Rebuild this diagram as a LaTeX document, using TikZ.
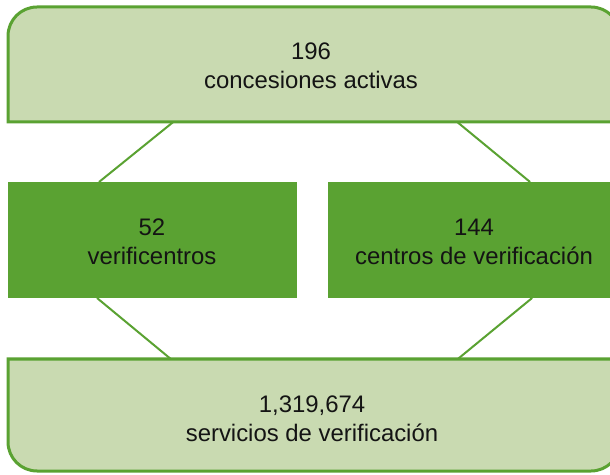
\documentclass[tikz,border=0pt]{standalone}
\usepackage{fontspec}
\setmainfont{Liberation Sans}
\usetikzlibrary{calc}
\definecolor{lightgreen}{RGB}{201,218,177}
\definecolor{darkgreen}{RGB}{90,162,50}
\begin{document}
\begin{tikzpicture}[x=1pt,y=1pt,
  frame/.style={rectangle,inner sep=0pt,outer sep=0pt},
  outline/.style={fill=lightgreen,draw=darkgreen,line width=3pt},
  midbox/.style={frame,fill=darkgreen},
  label/.style={align=center,font=\fontsize{23.9}{29}\selectfont,text=black!92},
  link/.style={draw=darkgreen,line width=2pt}]
\useasboundingbox (0,0) rectangle (610,474);
\clip (0,0) rectangle (610,474);
% frames
\node[frame,minimum width=612pt,minimum height=115pt] (top) at (314,409.5) {};
\node[frame,minimum width=612pt,minimum height=112pt] (bot) at (314,59) {};
\node[midbox,minimum width=289pt,minimum height=116pt] (left) at (152.5,234) {};
\node[midbox,minimum width=292pt,minimum height=116pt] (right) at (474,234) {};
% outlines of top and bottom boxes
\path[outline] (top.south west) -- ([yshift=-29pt]top.north west)
  arc[start angle=180,end angle=90,radius=29pt] -- ([xshift=-29pt]top.north east)
  arc[start angle=90,end angle=0,radius=29pt] -- (top.south east) -- cycle;
\path[outline] (bot.north west) -- ([yshift=29pt]bot.south west)
  arc[start angle=180,end angle=270,radius=29pt] -- ([xshift=-29pt]bot.south east)
  arc[start angle=270,end angle=360,radius=29pt] -- (bot.north east) -- cycle;
% texts
\node[label] (toptext) at (311,408) {196\\concesiones activas};
\node[label] (lefttext) at (152,232) {52\\verificentros};
\node[label] (righttext) at (474,232) {144\\centros de verificación};
\node[label] (bottext) at (312,55.5) {1,319,674\\servicios de verificación};
% connectors
\draw[link] ($(top.south west)!0.27!(top.south east)$) -- ($(left.north west)!0.315!(left.north east)$);
\draw[link] ($(top.south west)!0.734!(top.south east)$) -- ($(right.north west)!0.692!(right.north east)$);
\draw[link] ($(left.south west)!0.308!(left.south east)$) -- ($(bot.north west)!0.266!(bot.north east)$);
\draw[link] ($(right.south west)!0.699!(right.south east)$) -- ($(bot.north west)!0.735!(bot.north east)$);
\end{tikzpicture}
\end{document}
